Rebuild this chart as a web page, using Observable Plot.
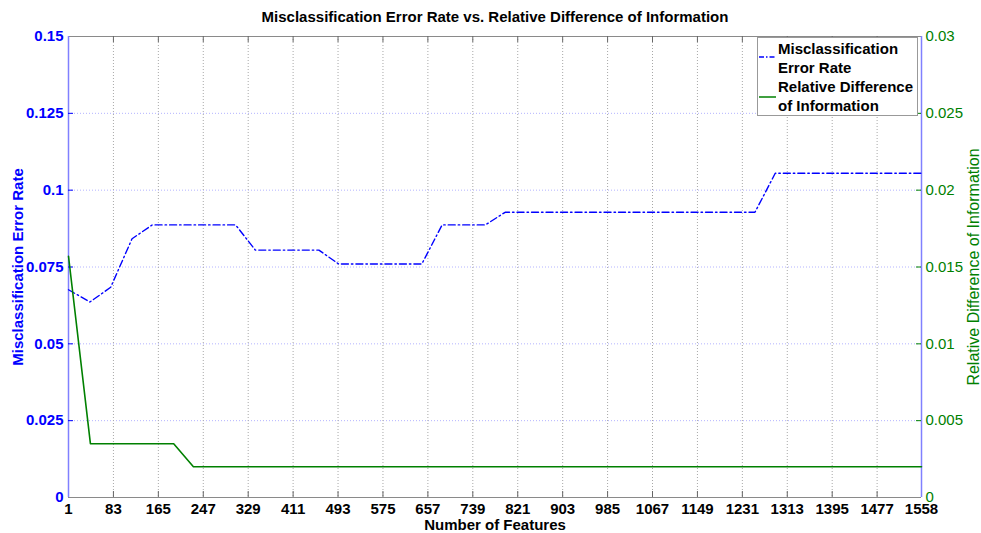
<!DOCTYPE html>
<html>
<head>
<meta charset="utf-8">
<script src="https://cdn.jsdelivr.net/npm/d3@7"></script>
<script src="https://cdn.jsdelivr.net/npm/@observablehq/plot@0.6"></script>
<style>
  html, body { margin: 0; padding: 0; background: #fff; }
  #wrap { position: relative; width: 981px; height: 533px; font-family: "Liberation Sans", Arial, sans-serif; }
  #legend { position: absolute; left: 757px; top: 37px; }
</style>
</head>
<body>
<div id="wrap"></div>
<script>
// ---- data ----
const errFeatures = [1, 40, 78, 117, 154, 306, 342, 458, 494, 646, 683, 762, 798, 1254, 1291, 1558];
const errRate     = [0.0676, 0.0636, 0.0684, 0.0842, 0.0887, 0.0887, 0.0805, 0.0805, 0.0760, 0.0760, 0.0887, 0.0887, 0.0928, 0.0928, 0.1055, 0.1055];
const infoFeatures = [1, 41, 193, 229, 1558];
const infoDiff     = [0.0157, 0.0035, 0.0035, 0.0020, 0.0020];
const xTicks = [1, 83, 165, 247, 329, 411, 493, 575, 657, 739, 821, 903, 985, 1067, 1149, 1231, 1313, 1395, 1477, 1558];
const leftTicks = [0, 0.025, 0.05, 0.075, 0.1, 0.125, 0.15];
const leftTickLabels = ["0", "0.025", "0.05", "0.075", "0.1", "0.125", "0.15"];
const rightTicks = [0, 0.005, 0.01, 0.015, 0.02, 0.025, 0.03];
const rightTickLabels = ["0", "0.005", "0.01", "0.015", "0.02", "0.025", "0.03"];
const titleText = "Misclassification Error Rate vs. Relative Difference of Information";
const xTitle = "Number of Features";
const leftTitle = "Misclassification Error Rate";
const rightTitle = "Relative Difference of Information";
const seriesNames = [["Misclassification", "Error Rate"], ["Relative Difference", "of Information"]];

const leftMax = 0.15, rightMax = 0.03, k = leftMax / rightMax;
const BLUE = "#0000ff", GREEN = "#008000", AXBLUE = "#8080ff", GRAY = "#8a8a8a";
const errData = errFeatures.map((x, i) => ({x, y: errRate[i]}));
const infoData = infoFeatures.map((x, i) => ({x, y: infoDiff[i]}));
const PH = 533 - 36 - 36;
const PW = 981 - 68 - 60;

const chart = Plot.plot({
  width: 981, height: 533,
  marginLeft: 68, marginRight: 60, marginTop: 36, marginBottom: 36,
  style: {fontFamily: "'Liberation Sans', Arial, sans-serif", background: "#fff", overflow: "visible"},
  x: {domain: [1, 1558]},
  y: {domain: [0, leftMax]},
  marks: [
    Plot.gridY(leftTicks, {stroke: "#b4b4ff", strokeOpacity: 1, strokeDasharray: "1,2"}),
    Plot.gridX(xTicks.slice(1, -1), {stroke: "#a8a8a8", strokeOpacity: 1, strokeDasharray: "1,2"}),
    // box edges
    Plot.ruleY([0, leftMax], {stroke: GRAY, strokeWidth: 1.2}),
    Plot.ruleX([1, 1558], {stroke: AXBLUE, strokeWidth: 1.5}),
    // x ticks (inward, bottom and top)
    Plot.tickX(xTicks.slice(1, -1), {x: d => d, stroke: "#666", insetTop: PH - 6}),
    Plot.tickX(xTicks.slice(1, -1), {x: d => d, stroke: "#666", insetBottom: PH - 6}),
    // left ticks
    Plot.tickY(leftTicks.slice(1, -1), {y: d => d, stroke: BLUE, insetRight: PW - 5}),
    // right ticks
    Plot.tickY(rightTicks.slice(1, -1), {y: d => d * k, stroke: GREEN, insetLeft: PW - 5}),
    // series
    Plot.line(errData, {x: "x", y: "y", stroke: BLUE, strokeWidth: 1.4, strokeDasharray: "7,3,1.5,3"}),
    Plot.line(infoData, {x: "x", y: d => d.y * k, stroke: GREEN, strokeWidth: 1.6}),
    // axes labels
    Plot.axisX(xTicks, {anchor: "bottom", tickSize: 0, tickPadding: 6, tickFormat: d => String(d), fill: "#000", fontSize: 15, fontWeight: "bold", label: null}),
    Plot.axisY(leftTicks, {anchor: "left", tickSize: 0, tickPadding: 5, tickFormat: d => leftTickLabels[leftTicks.indexOf(d)], fill: BLUE, fontSize: 15, fontWeight: "bold", label: null}),
    Plot.axisY(rightTicks.map(d => d * k), {anchor: "right", tickSize: 0, tickPadding: 4, tickFormat: d => rightTickLabels[rightTicks.findIndex(t => Math.abs(t * k - d) < 1e-9)], fill: GREEN, fontSize: 15, label: null}),
    // titles
    Plot.text([titleText], {frameAnchor: "top", dy: -19, lineAnchor: "middle", textAnchor: "middle", fontSize: 15, fontWeight: "bold", fill: "#000"}),
    Plot.text([xTitle], {frameAnchor: "bottom", dy: 28, lineAnchor: "middle", textAnchor: "middle", fontSize: 15, fontWeight: "bold", fill: "#000"}),
    Plot.text([leftTitle], {frameAnchor: "left", dx: -50, rotate: -90, lineAnchor: "middle", textAnchor: "middle", fontSize: 15, fontWeight: "bold", fill: BLUE}),
    Plot.text([rightTitle], {frameAnchor: "right", dx: 52, rotate: -90, lineAnchor: "middle", textAnchor: "middle", fontSize: 16, fill: GREEN})
  ]
});
document.getElementById("wrap").appendChild(chart);

// legend overlay
const lg = d3.select("#wrap").append("svg").attr("id", "legend")
  .attr("width", 162).attr("height", 80)
  .style("font-family", "'Liberation Sans', Arial, sans-serif");
lg.append("rect").attr("x", 0.5).attr("y", 0.5).attr("width", 160).attr("height", 78)
  .attr("fill", "#fff").attr("stroke", "#999");
const entries = [
  {name: seriesNames[0], color: BLUE, dash: "5,2,1.5,2", ly: 20},
  {name: seriesNames[1], color: GREEN, dash: null, ly: 60}
];
entries.forEach((e, i) => {
  const l = lg.append("line").attr("x1", 2).attr("x2", 19).attr("y1", e.ly).attr("y2", e.ly)
    .attr("stroke", e.color).attr("stroke-width", 1.5);
  if (e.dash) l.attr("stroke-dasharray", e.dash);
  e.name.forEach((t, j) => {
    lg.append("text").attr("x", 21).attr("y", 17 + i * 38 + j * 19)
      .attr("font-size", 15).attr("font-weight", "bold").attr("fill", "#000").text(t);
  });
});
</script>
</body>
</html>
